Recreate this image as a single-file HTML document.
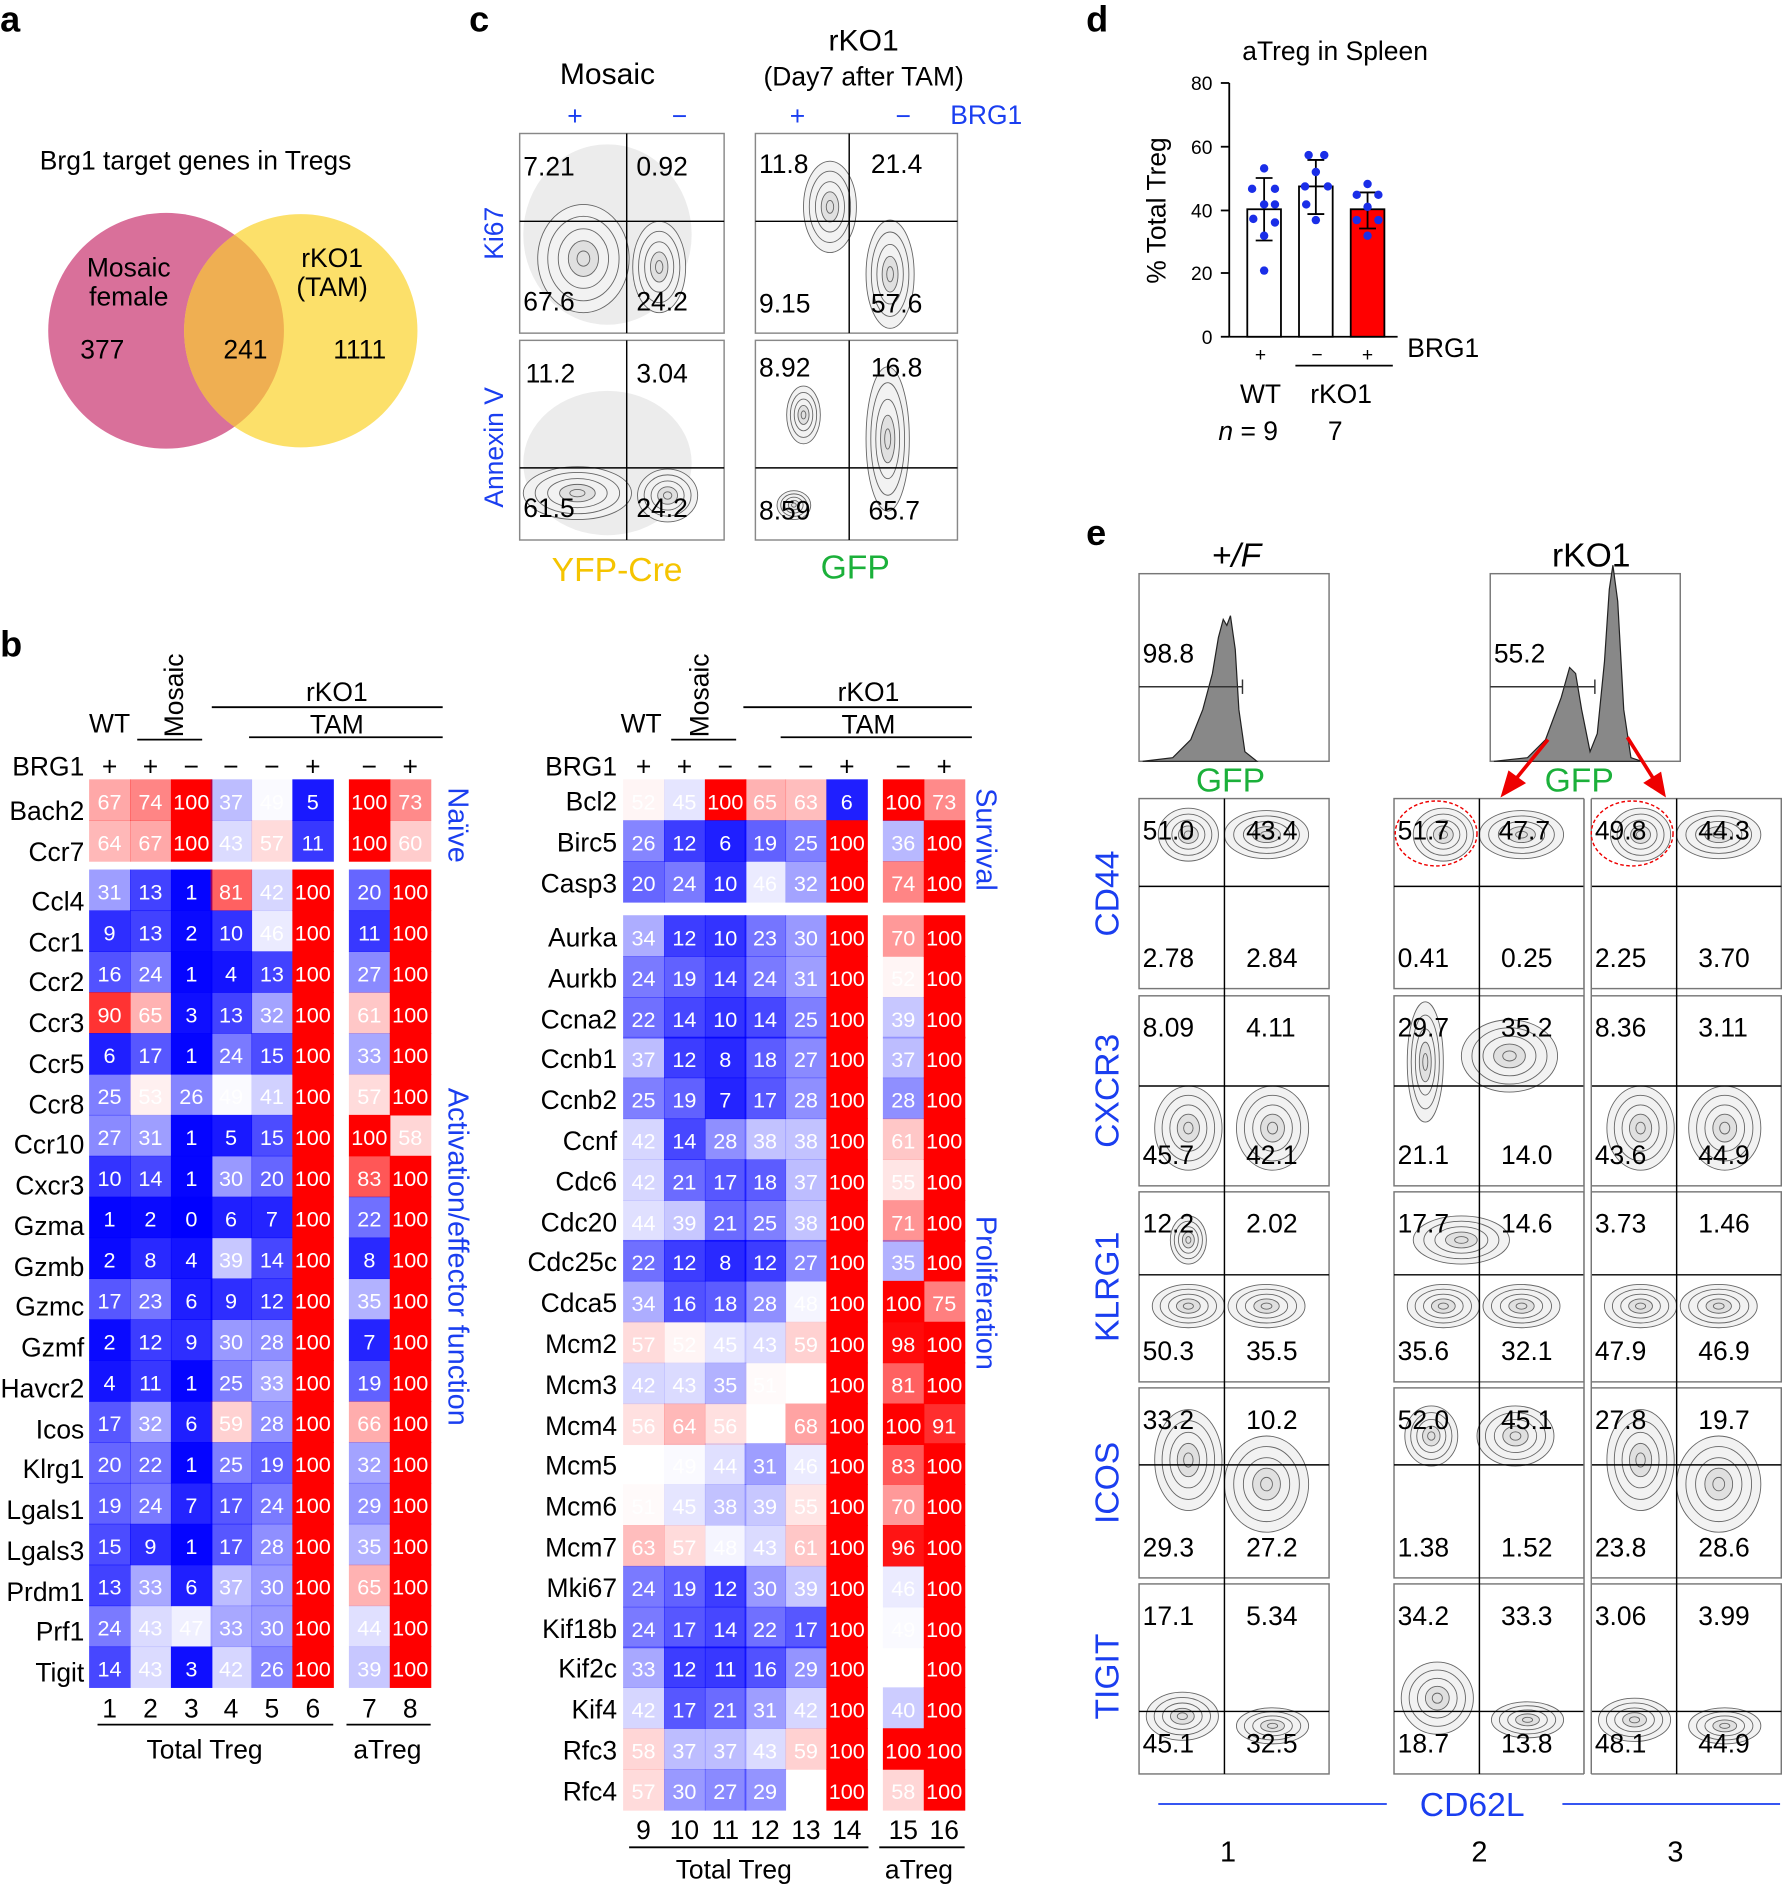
<!DOCTYPE html>
<html><head><meta charset="utf-8"><style>
html,body{margin:0;padding:0;background:#fff}
svg{display:block;font-family:"Liberation Sans",Arial,sans-serif}
.hm text{font-size:18px;fill:#fff;text-anchor:middle}
.gl text{font-size:22px;text-anchor:end}
.q text{font-size:22px}
</style></head><body>
<svg width="1785" height="1887" viewBox="0 0 1484 1569" xmlns="http://www.w3.org/2000/svg">
<defs>
<g id="b" stroke="#666" stroke-width="0.9">
<ellipse rx="1" ry="1" fill="#f2f2f2" vector-effect="non-scaling-stroke"/>
<ellipse rx="0.78" ry="0.78" fill="none" vector-effect="non-scaling-stroke"/>
<ellipse rx="0.55" ry="0.55" fill="none" vector-effect="non-scaling-stroke"/>
<ellipse rx="0.33" ry="0.33" fill="#e0e0e0" vector-effect="non-scaling-stroke"/>
<ellipse rx="0.14" ry="0.14" fill="none" vector-effect="non-scaling-stroke"/>
</g>
</defs>
<g font-size="22">
<text x="0" y="26" font-size="30" font-weight="bold">a</text>
<text x="0" y="546" font-size="30" font-weight="bold">b</text>
<text x="390" y="26" font-size="30" font-weight="bold">c</text>
<text x="903" y="26" font-size="30" font-weight="bold">d</text>
<text x="903" y="453" font-size="30" font-weight="bold">e</text>

<text x="33" y="141">Brg1 target genes in Tregs</text>
<circle cx="138" cy="275" r="98" fill="#d9709a"/>
<circle cx="250" cy="275" r="97" fill="#fce06a"/>
<clipPath id="cv"><circle cx="138" cy="275" r="98"/></clipPath>
<circle cx="250" cy="275" r="97" fill="#efaf52" clip-path="url(#cv)"/>
<text x="107" y="230" text-anchor="middle">Mosaic</text>
<text x="107" y="254" text-anchor="middle">female</text>
<text x="276" y="222" text-anchor="middle">rKO1</text>
<text x="276" y="246" text-anchor="middle">(TAM)</text>
<text x="85" y="298" text-anchor="middle">377</text>
<text x="204" y="298" text-anchor="middle">241</text>
<text x="299" y="298" text-anchor="middle">1111</text>

<text x="70" y="645" text-anchor="end">BRG1</text>
<g text-anchor="middle"><text x="91" y="645">+</text><text x="125" y="645">+</text><text x="159" y="645">−</text><text x="192" y="645">−</text><text x="226" y="645">−</text><text x="260" y="645">+</text><text x="307" y="645">−</text><text x="341" y="645">+</text>
<text x="91" y="609">WT</text><text x="280" y="583">rKO1</text><text x="280" y="610">TAM</text>
<text x="91" y="1428">1</text><text x="125" y="1428">2</text><text x="159" y="1428">3</text><text x="192" y="1428">4</text><text x="226" y="1428">5</text><text x="260" y="1428">6</text><text x="307" y="1428">7</text><text x="341" y="1428">8</text>
<text x="170" y="1462">Total Treg</text><text x="322" y="1462">aTreg</text></g>
<text transform="translate(152,613) rotate(-90)">Mosaic</text>
<g stroke="#000" stroke-width="1.5"><line x1="114" y1="615" x2="168" y2="615"/><line x1="176" y1="588" x2="368" y2="588"/><line x1="207" y1="613" x2="368" y2="613"/><line x1="81" y1="1434" x2="277" y2="1434"/><line x1="288" y1="1434" x2="358" y2="1434"/></g>
<text x="513" y="645" text-anchor="end">BRG1</text>
<g text-anchor="middle"><text x="535" y="645">+</text><text x="569" y="645">+</text><text x="603" y="645">−</text><text x="636" y="645">−</text><text x="670" y="645">−</text><text x="704" y="645">+</text><text x="751" y="645">−</text><text x="785" y="645">+</text>
<text x="533" y="609">WT</text><text x="722" y="583">rKO1</text><text x="722" y="610">TAM</text>
<text x="535" y="1529">9</text><text x="569" y="1529">10</text><text x="603" y="1529">11</text><text x="636" y="1529">12</text><text x="670" y="1529">13</text><text x="704" y="1529">14</text><text x="751" y="1529">15</text><text x="785" y="1529">16</text>
<text x="610" y="1562">Total Treg</text><text x="764" y="1562">aTreg</text></g>
<text transform="translate(589,613) rotate(-90)">Mosaic</text>
<g stroke="#000" stroke-width="1.5"><line x1="558" y1="615" x2="612" y2="615"/><line x1="618" y1="588" x2="808" y2="588"/><line x1="649" y1="613" x2="808" y2="613"/><line x1="523" y1="1536" x2="722" y2="1536"/><line x1="731" y1="1536" x2="802" y2="1536"/></g>
<g fill="#1a3ef0" font-size="24" text-anchor="middle">
<text transform="translate(373,686) rotate(90)">Naïve</text>
<text transform="translate(373,1045) rotate(90)">Activation/effector function</text>
<text transform="translate(812,698) rotate(90)">Survival</text>
<text transform="translate(812,1075) rotate(90)">Proliferation</text></g>
</g>

<g class="gl">
<text x="70" y="682">Bach2</text><text x="70" y="716">Ccr7</text><text x="70" y="757">Ccl4</text><text x="70" y="791">Ccr1</text><text x="70" y="824">Ccr2</text><text x="70" y="858">Ccr3</text><text x="70" y="892">Ccr5</text><text x="70" y="926">Ccr8</text><text x="70" y="959">Ccr10</text><text x="70" y="993">Cxcr3</text><text x="70" y="1027">Gzma</text><text x="70" y="1061">Gzmb</text><text x="70" y="1094">Gzmc</text><text x="70" y="1128">Gzmf</text><text x="70" y="1162">Havcr2</text><text x="70" y="1196">Icos</text><text x="70" y="1229">Klrg1</text><text x="70" y="1263">Lgals1</text><text x="70" y="1297">Lgals3</text><text x="70" y="1331">Prdm1</text><text x="70" y="1364">Prf1</text><text x="70" y="1398">Tigit</text>
<text x="513" y="674">Bcl2</text><text x="513" y="708">Birc5</text><text x="513" y="742">Casp3</text><text x="513" y="787">Aurka</text><text x="513" y="821">Aurkb</text><text x="513" y="855">Ccna2</text><text x="513" y="888">Ccnb1</text><text x="513" y="922">Ccnb2</text><text x="513" y="956">Ccnf</text><text x="513" y="990">Cdc6</text><text x="513" y="1024">Cdc20</text><text x="513" y="1057">Cdc25c</text><text x="513" y="1091">Cdca5</text><text x="513" y="1125">Mcm2</text><text x="513" y="1159">Mcm3</text><text x="513" y="1193">Mcm4</text><text x="513" y="1226">Mcm5</text><text x="513" y="1260">Mcm6</text><text x="513" y="1294">Mcm7</text><text x="513" y="1328">Mki67</text><text x="513" y="1362">Kif18b</text><text x="513" y="1395">Kif2c</text><text x="513" y="1429">Kif4</text><text x="513" y="1463">Rfc3</text><text x="513" y="1497">Rfc4</text>
</g>

<g class="hm">
<g transform="translate(0,648)"><rect x="74" width="34.5" height="34.5" fill="#f00" fill-opacity=".34"/><text x="91" y="25">67</text><rect x="108" width="34.5" height="34.5" fill="#f00" fill-opacity=".48"/><text x="125" y="25">74</text><rect x="142" width="34.5" height="34.5" fill="#f00"/><text x="159" y="25">100</text><rect x="175" width="34.5" height="34.5" fill="#00f" fill-opacity=".26"/><text x="192" y="25">37</text><rect x="209" width="34.5" height="34.5" fill="#00f" fill-opacity=".02"/><text x="226" y="25">49</text><rect x="243" width="34.5" height="34.5" fill="#00f" fill-opacity=".9"/><text x="260" y="25">5</text><rect x="290" width="34.5" height="34.5" fill="#f00"/><text x="307" y="25">100</text><rect x="324" width="34.5" height="34.5" fill="#f00" fill-opacity=".46"/><text x="341" y="25">73</text></g>
<g transform="translate(0,682)"><rect x="74" width="34.5" height="34.5" fill="#f00" fill-opacity=".28"/><text x="91" y="25">64</text><rect x="108" width="34.5" height="34.5" fill="#f00" fill-opacity=".34"/><text x="125" y="25">67</text><rect x="142" width="34.5" height="34.5" fill="#f00"/><text x="159" y="25">100</text><rect x="175" width="34.5" height="34.5" fill="#00f" fill-opacity=".14"/><text x="192" y="25">43</text><rect x="209" width="34.5" height="34.5" fill="#f00" fill-opacity=".14"/><text x="226" y="25">57</text><rect x="243" width="34.5" height="34.5" fill="#00f" fill-opacity=".78"/><text x="260" y="25">11</text><rect x="290" width="34.5" height="34.5" fill="#f00"/><text x="307" y="25">100</text><rect x="324" width="34.5" height="34.5" fill="#f00" fill-opacity=".2"/><text x="341" y="25">60</text></g>
<g transform="translate(0,723)"><rect x="74" width="34.5" height="34.5" fill="#00f" fill-opacity=".38"/><text x="91" y="25">31</text><rect x="108" width="34.5" height="34.5" fill="#00f" fill-opacity=".74"/><text x="125" y="25">13</text><rect x="142" width="34.5" height="34.5" fill="#00f" fill-opacity=".98"/><text x="159" y="25">1</text><rect x="175" width="34.5" height="34.5" fill="#f00" fill-opacity=".62"/><text x="192" y="25">81</text><rect x="209" width="34.5" height="34.5" fill="#00f" fill-opacity=".16"/><text x="226" y="25">42</text><rect x="243" width="34.5" height="34.5" fill="#f00"/><text x="260" y="25">100</text><rect x="290" width="34.5" height="34.5" fill="#00f" fill-opacity=".6"/><text x="307" y="25">20</text><rect x="324" width="34.5" height="34.5" fill="#f00"/><text x="341" y="25">100</text></g>
<g transform="translate(0,757)"><rect x="74" width="34.5" height="34.5" fill="#00f" fill-opacity=".82"/><text x="91" y="25">9</text><rect x="108" width="34.5" height="34.5" fill="#00f" fill-opacity=".74"/><text x="125" y="25">13</text><rect x="142" width="34.5" height="34.5" fill="#00f" fill-opacity=".96"/><text x="159" y="25">2</text><rect x="175" width="34.5" height="34.5" fill="#00f" fill-opacity=".8"/><text x="192" y="25">10</text><rect x="209" width="34.5" height="34.5" fill="#00f" fill-opacity=".08"/><text x="226" y="25">46</text><rect x="243" width="34.5" height="34.5" fill="#f00"/><text x="260" y="25">100</text><rect x="290" width="34.5" height="34.5" fill="#00f" fill-opacity=".78"/><text x="307" y="25">11</text><rect x="324" width="34.5" height="34.5" fill="#f00"/><text x="341" y="25">100</text></g>
<g transform="translate(0,791)"><rect x="74" width="34.5" height="34.5" fill="#00f" fill-opacity=".68"/><text x="91" y="25">16</text><rect x="108" width="34.5" height="34.5" fill="#00f" fill-opacity=".52"/><text x="125" y="25">24</text><rect x="142" width="34.5" height="34.5" fill="#00f" fill-opacity=".98"/><text x="159" y="25">1</text><rect x="175" width="34.5" height="34.5" fill="#00f" fill-opacity=".92"/><text x="192" y="25">4</text><rect x="209" width="34.5" height="34.5" fill="#00f" fill-opacity=".74"/><text x="226" y="25">13</text><rect x="243" width="34.5" height="34.5" fill="#f00"/><text x="260" y="25">100</text><rect x="290" width="34.5" height="34.5" fill="#00f" fill-opacity=".46"/><text x="307" y="25">27</text><rect x="324" width="34.5" height="34.5" fill="#f00"/><text x="341" y="25">100</text></g>
<g transform="translate(0,825)"><rect x="74" width="34.5" height="34.5" fill="#f00" fill-opacity=".8"/><text x="91" y="25">90</text><rect x="108" width="34.5" height="34.5" fill="#f00" fill-opacity=".3"/><text x="125" y="25">65</text><rect x="142" width="34.5" height="34.5" fill="#00f" fill-opacity=".94"/><text x="159" y="25">3</text><rect x="175" width="34.5" height="34.5" fill="#00f" fill-opacity=".74"/><text x="192" y="25">13</text><rect x="209" width="34.5" height="34.5" fill="#00f" fill-opacity=".36"/><text x="226" y="25">32</text><rect x="243" width="34.5" height="34.5" fill="#f00"/><text x="260" y="25">100</text><rect x="290" width="34.5" height="34.5" fill="#f00" fill-opacity=".22"/><text x="307" y="25">61</text><rect x="324" width="34.5" height="34.5" fill="#f00"/><text x="341" y="25">100</text></g>
<g transform="translate(0,859)"><rect x="74" width="34.5" height="34.5" fill="#00f" fill-opacity=".88"/><text x="91" y="25">6</text><rect x="108" width="34.5" height="34.5" fill="#00f" fill-opacity=".66"/><text x="125" y="25">17</text><rect x="142" width="34.5" height="34.5" fill="#00f" fill-opacity=".98"/><text x="159" y="25">1</text><rect x="175" width="34.5" height="34.5" fill="#00f" fill-opacity=".52"/><text x="192" y="25">24</text><rect x="209" width="34.5" height="34.5" fill="#00f" fill-opacity=".7"/><text x="226" y="25">15</text><rect x="243" width="34.5" height="34.5" fill="#f00"/><text x="260" y="25">100</text><rect x="290" width="34.5" height="34.5" fill="#00f" fill-opacity=".34"/><text x="307" y="25">33</text><rect x="324" width="34.5" height="34.5" fill="#f00"/><text x="341" y="25">100</text></g>
<g transform="translate(0,893)"><rect x="74" width="34.5" height="34.5" fill="#00f" fill-opacity=".5"/><text x="91" y="25">25</text><rect x="108" width="34.5" height="34.5" fill="#f00" fill-opacity=".06"/><text x="125" y="25">53</text><rect x="142" width="34.5" height="34.5" fill="#00f" fill-opacity=".48"/><text x="159" y="25">26</text><rect x="175" width="34.5" height="34.5" fill="#00f" fill-opacity=".02"/><text x="192" y="25">49</text><rect x="209" width="34.5" height="34.5" fill="#00f" fill-opacity=".18"/><text x="226" y="25">41</text><rect x="243" width="34.5" height="34.5" fill="#f00"/><text x="260" y="25">100</text><rect x="290" width="34.5" height="34.5" fill="#f00" fill-opacity=".14"/><text x="307" y="25">57</text><rect x="324" width="34.5" height="34.5" fill="#f00"/><text x="341" y="25">100</text></g>
<g transform="translate(0,927)"><rect x="74" width="34.5" height="34.5" fill="#00f" fill-opacity=".46"/><text x="91" y="25">27</text><rect x="108" width="34.5" height="34.5" fill="#00f" fill-opacity=".38"/><text x="125" y="25">31</text><rect x="142" width="34.5" height="34.5" fill="#00f" fill-opacity=".98"/><text x="159" y="25">1</text><rect x="175" width="34.5" height="34.5" fill="#00f" fill-opacity=".9"/><text x="192" y="25">5</text><rect x="209" width="34.5" height="34.5" fill="#00f" fill-opacity=".7"/><text x="226" y="25">15</text><rect x="243" width="34.5" height="34.5" fill="#f00"/><text x="260" y="25">100</text><rect x="290" width="34.5" height="34.5" fill="#f00"/><text x="307" y="25">100</text><rect x="324" width="34.5" height="34.5" fill="#f00" fill-opacity=".16"/><text x="341" y="25">58</text></g>
<g transform="translate(0,961)"><rect x="74" width="34.5" height="34.5" fill="#00f" fill-opacity=".8"/><text x="91" y="25">10</text><rect x="108" width="34.5" height="34.5" fill="#00f" fill-opacity=".72"/><text x="125" y="25">14</text><rect x="142" width="34.5" height="34.5" fill="#00f" fill-opacity=".98"/><text x="159" y="25">1</text><rect x="175" width="34.5" height="34.5" fill="#00f" fill-opacity=".4"/><text x="192" y="25">30</text><rect x="209" width="34.5" height="34.5" fill="#00f" fill-opacity=".6"/><text x="226" y="25">20</text><rect x="243" width="34.5" height="34.5" fill="#f00"/><text x="260" y="25">100</text><rect x="290" width="34.5" height="34.5" fill="#f00" fill-opacity=".66"/><text x="307" y="25">83</text><rect x="324" width="34.5" height="34.5" fill="#f00"/><text x="341" y="25">100</text></g>
<g transform="translate(0,995)"><rect x="74" width="34.5" height="34.5" fill="#00f" fill-opacity=".98"/><text x="91" y="25">1</text><rect x="108" width="34.5" height="34.5" fill="#00f" fill-opacity=".96"/><text x="125" y="25">2</text><rect x="142" width="34.5" height="34.5" fill="#00f"/><text x="159" y="25">0</text><rect x="175" width="34.5" height="34.5" fill="#00f" fill-opacity=".88"/><text x="192" y="25">6</text><rect x="209" width="34.5" height="34.5" fill="#00f" fill-opacity=".86"/><text x="226" y="25">7</text><rect x="243" width="34.5" height="34.5" fill="#f00"/><text x="260" y="25">100</text><rect x="290" width="34.5" height="34.5" fill="#00f" fill-opacity=".56"/><text x="307" y="25">22</text><rect x="324" width="34.5" height="34.5" fill="#f00"/><text x="341" y="25">100</text></g>
<g transform="translate(0,1029)"><rect x="74" width="34.5" height="34.5" fill="#00f" fill-opacity=".96"/><text x="91" y="25">2</text><rect x="108" width="34.5" height="34.5" fill="#00f" fill-opacity=".84"/><text x="125" y="25">8</text><rect x="142" width="34.5" height="34.5" fill="#00f" fill-opacity=".92"/><text x="159" y="25">4</text><rect x="175" width="34.5" height="34.5" fill="#00f" fill-opacity=".22"/><text x="192" y="25">39</text><rect x="209" width="34.5" height="34.5" fill="#00f" fill-opacity=".72"/><text x="226" y="25">14</text><rect x="243" width="34.5" height="34.5" fill="#f00"/><text x="260" y="25">100</text><rect x="290" width="34.5" height="34.5" fill="#00f" fill-opacity=".84"/><text x="307" y="25">8</text><rect x="324" width="34.5" height="34.5" fill="#f00"/><text x="341" y="25">100</text></g>
<g transform="translate(0,1063)"><rect x="74" width="34.5" height="34.5" fill="#00f" fill-opacity=".66"/><text x="91" y="25">17</text><rect x="108" width="34.5" height="34.5" fill="#00f" fill-opacity=".54"/><text x="125" y="25">23</text><rect x="142" width="34.5" height="34.5" fill="#00f" fill-opacity=".88"/><text x="159" y="25">6</text><rect x="175" width="34.5" height="34.5" fill="#00f" fill-opacity=".82"/><text x="192" y="25">9</text><rect x="209" width="34.5" height="34.5" fill="#00f" fill-opacity=".76"/><text x="226" y="25">12</text><rect x="243" width="34.5" height="34.5" fill="#f00"/><text x="260" y="25">100</text><rect x="290" width="34.5" height="34.5" fill="#00f" fill-opacity=".3"/><text x="307" y="25">35</text><rect x="324" width="34.5" height="34.5" fill="#f00"/><text x="341" y="25">100</text></g>
<g transform="translate(0,1097)"><rect x="74" width="34.5" height="34.5" fill="#00f" fill-opacity=".96"/><text x="91" y="25">2</text><rect x="108" width="34.5" height="34.5" fill="#00f" fill-opacity=".76"/><text x="125" y="25">12</text><rect x="142" width="34.5" height="34.5" fill="#00f" fill-opacity=".82"/><text x="159" y="25">9</text><rect x="175" width="34.5" height="34.5" fill="#00f" fill-opacity=".4"/><text x="192" y="25">30</text><rect x="209" width="34.5" height="34.5" fill="#00f" fill-opacity=".44"/><text x="226" y="25">28</text><rect x="243" width="34.5" height="34.5" fill="#f00"/><text x="260" y="25">100</text><rect x="290" width="34.5" height="34.5" fill="#00f" fill-opacity=".86"/><text x="307" y="25">7</text><rect x="324" width="34.5" height="34.5" fill="#f00"/><text x="341" y="25">100</text></g>
<g transform="translate(0,1131)"><rect x="74" width="34.5" height="34.5" fill="#00f" fill-opacity=".92"/><text x="91" y="25">4</text><rect x="108" width="34.5" height="34.5" fill="#00f" fill-opacity=".78"/><text x="125" y="25">11</text><rect x="142" width="34.5" height="34.5" fill="#00f" fill-opacity=".98"/><text x="159" y="25">1</text><rect x="175" width="34.5" height="34.5" fill="#00f" fill-opacity=".5"/><text x="192" y="25">25</text><rect x="209" width="34.5" height="34.5" fill="#00f" fill-opacity=".34"/><text x="226" y="25">33</text><rect x="243" width="34.5" height="34.5" fill="#f00"/><text x="260" y="25">100</text><rect x="290" width="34.5" height="34.5" fill="#00f" fill-opacity=".62"/><text x="307" y="25">19</text><rect x="324" width="34.5" height="34.5" fill="#f00"/><text x="341" y="25">100</text></g>
<g transform="translate(0,1165)"><rect x="74" width="34.5" height="34.5" fill="#00f" fill-opacity=".66"/><text x="91" y="25">17</text><rect x="108" width="34.5" height="34.5" fill="#00f" fill-opacity=".36"/><text x="125" y="25">32</text><rect x="142" width="34.5" height="34.5" fill="#00f" fill-opacity=".88"/><text x="159" y="25">6</text><rect x="175" width="34.5" height="34.5" fill="#f00" fill-opacity=".18"/><text x="192" y="25">59</text><rect x="209" width="34.5" height="34.5" fill="#00f" fill-opacity=".44"/><text x="226" y="25">28</text><rect x="243" width="34.5" height="34.5" fill="#f00"/><text x="260" y="25">100</text><rect x="290" width="34.5" height="34.5" fill="#f00" fill-opacity=".32"/><text x="307" y="25">66</text><rect x="324" width="34.5" height="34.5" fill="#f00"/><text x="341" y="25">100</text></g>
<g transform="translate(0,1199)"><rect x="74" width="34.5" height="34.5" fill="#00f" fill-opacity=".6"/><text x="91" y="25">20</text><rect x="108" width="34.5" height="34.5" fill="#00f" fill-opacity=".56"/><text x="125" y="25">22</text><rect x="142" width="34.5" height="34.5" fill="#00f" fill-opacity=".98"/><text x="159" y="25">1</text><rect x="175" width="34.5" height="34.5" fill="#00f" fill-opacity=".5"/><text x="192" y="25">25</text><rect x="209" width="34.5" height="34.5" fill="#00f" fill-opacity=".62"/><text x="226" y="25">19</text><rect x="243" width="34.5" height="34.5" fill="#f00"/><text x="260" y="25">100</text><rect x="290" width="34.5" height="34.5" fill="#00f" fill-opacity=".36"/><text x="307" y="25">32</text><rect x="324" width="34.5" height="34.5" fill="#f00"/><text x="341" y="25">100</text></g>
<g transform="translate(0,1233)"><rect x="74" width="34.5" height="34.5" fill="#00f" fill-opacity=".62"/><text x="91" y="25">19</text><rect x="108" width="34.5" height="34.5" fill="#00f" fill-opacity=".52"/><text x="125" y="25">24</text><rect x="142" width="34.5" height="34.5" fill="#00f" fill-opacity=".86"/><text x="159" y="25">7</text><rect x="175" width="34.5" height="34.5" fill="#00f" fill-opacity=".66"/><text x="192" y="25">17</text><rect x="209" width="34.5" height="34.5" fill="#00f" fill-opacity=".52"/><text x="226" y="25">24</text><rect x="243" width="34.5" height="34.5" fill="#f00"/><text x="260" y="25">100</text><rect x="290" width="34.5" height="34.5" fill="#00f" fill-opacity=".42"/><text x="307" y="25">29</text><rect x="324" width="34.5" height="34.5" fill="#f00"/><text x="341" y="25">100</text></g>
<g transform="translate(0,1267)"><rect x="74" width="34.5" height="34.5" fill="#00f" fill-opacity=".7"/><text x="91" y="25">15</text><rect x="108" width="34.5" height="34.5" fill="#00f" fill-opacity=".82"/><text x="125" y="25">9</text><rect x="142" width="34.5" height="34.5" fill="#00f" fill-opacity=".98"/><text x="159" y="25">1</text><rect x="175" width="34.5" height="34.5" fill="#00f" fill-opacity=".66"/><text x="192" y="25">17</text><rect x="209" width="34.5" height="34.5" fill="#00f" fill-opacity=".44"/><text x="226" y="25">28</text><rect x="243" width="34.5" height="34.5" fill="#f00"/><text x="260" y="25">100</text><rect x="290" width="34.5" height="34.5" fill="#00f" fill-opacity=".3"/><text x="307" y="25">35</text><rect x="324" width="34.5" height="34.5" fill="#f00"/><text x="341" y="25">100</text></g>
<g transform="translate(0,1301)"><rect x="74" width="34.5" height="34.5" fill="#00f" fill-opacity=".74"/><text x="91" y="25">13</text><rect x="108" width="34.5" height="34.5" fill="#00f" fill-opacity=".34"/><text x="125" y="25">33</text><rect x="142" width="34.5" height="34.5" fill="#00f" fill-opacity=".88"/><text x="159" y="25">6</text><rect x="175" width="34.5" height="34.5" fill="#00f" fill-opacity=".26"/><text x="192" y="25">37</text><rect x="209" width="34.5" height="34.5" fill="#00f" fill-opacity=".4"/><text x="226" y="25">30</text><rect x="243" width="34.5" height="34.5" fill="#f00"/><text x="260" y="25">100</text><rect x="290" width="34.5" height="34.5" fill="#f00" fill-opacity=".3"/><text x="307" y="25">65</text><rect x="324" width="34.5" height="34.5" fill="#f00"/><text x="341" y="25">100</text></g>
<g transform="translate(0,1335)"><rect x="74" width="34.5" height="34.5" fill="#00f" fill-opacity=".52"/><text x="91" y="25">24</text><rect x="108" width="34.5" height="34.5" fill="#00f" fill-opacity=".14"/><text x="125" y="25">43</text><rect x="142" width="34.5" height="34.5" fill="#00f" fill-opacity=".06"/><text x="159" y="25">47</text><rect x="175" width="34.5" height="34.5" fill="#00f" fill-opacity=".34"/><text x="192" y="25">33</text><rect x="209" width="34.5" height="34.5" fill="#00f" fill-opacity=".4"/><text x="226" y="25">30</text><rect x="243" width="34.5" height="34.5" fill="#f00"/><text x="260" y="25">100</text><rect x="290" width="34.5" height="34.5" fill="#00f" fill-opacity=".12"/><text x="307" y="25">44</text><rect x="324" width="34.5" height="34.5" fill="#f00"/><text x="341" y="25">100</text></g>
<g transform="translate(0,1369)"><rect x="74" width="34.5" height="34.5" fill="#00f" fill-opacity=".72"/><text x="91" y="25">14</text><rect x="108" width="34.5" height="34.5" fill="#00f" fill-opacity=".14"/><text x="125" y="25">43</text><rect x="142" width="34.5" height="34.5" fill="#00f" fill-opacity=".94"/><text x="159" y="25">3</text><rect x="175" width="34.5" height="34.5" fill="#00f" fill-opacity=".16"/><text x="192" y="25">42</text><rect x="209" width="34.5" height="34.5" fill="#00f" fill-opacity=".48"/><text x="226" y="25">26</text><rect x="243" width="34.5" height="34.5" fill="#f00"/><text x="260" y="25">100</text><rect x="290" width="34.5" height="34.5" fill="#00f" fill-opacity=".22"/><text x="307" y="25">39</text><rect x="324" width="34.5" height="34.5" fill="#f00"/><text x="341" y="25">100</text></g>
</g>

<g class="hm">
<g transform="translate(0,648)"><rect x="518" width="34.5" height="34.5" fill="#f00" fill-opacity=".04"/><text x="535" y="25">52</text><rect x="552" width="34.5" height="34.5" fill="#00f" fill-opacity=".1"/><text x="569" y="25">45</text><rect x="586" width="34.5" height="34.5" fill="#f00"/><text x="603" y="25">100</text><rect x="619" width="34.5" height="34.5" fill="#f00" fill-opacity=".3"/><text x="636" y="25">65</text><rect x="653" width="34.5" height="34.5" fill="#f00" fill-opacity=".26"/><text x="670" y="25">63</text><rect x="687" width="34.5" height="34.5" fill="#00f" fill-opacity=".88"/><text x="704" y="25">6</text><rect x="734" width="34.5" height="34.5" fill="#f00"/><text x="751" y="25">100</text><rect x="768" width="34.5" height="34.5" fill="#f00" fill-opacity=".46"/><text x="785" y="25">73</text></g>
<g transform="translate(0,682)"><rect x="518" width="34.5" height="34.5" fill="#00f" fill-opacity=".48"/><text x="535" y="25">26</text><rect x="552" width="34.5" height="34.5" fill="#00f" fill-opacity=".76"/><text x="569" y="25">12</text><rect x="586" width="34.5" height="34.5" fill="#00f" fill-opacity=".88"/><text x="603" y="25">6</text><rect x="619" width="34.5" height="34.5" fill="#00f" fill-opacity=".62"/><text x="636" y="25">19</text><rect x="653" width="34.5" height="34.5" fill="#00f" fill-opacity=".5"/><text x="670" y="25">25</text><rect x="687" width="34.5" height="34.5" fill="#f00"/><text x="704" y="25">100</text><rect x="734" width="34.5" height="34.5" fill="#00f" fill-opacity=".28"/><text x="751" y="25">36</text><rect x="768" width="34.5" height="34.5" fill="#f00"/><text x="785" y="25">100</text></g>
<g transform="translate(0,716)"><rect x="518" width="34.5" height="34.5" fill="#00f" fill-opacity=".6"/><text x="535" y="25">20</text><rect x="552" width="34.5" height="34.5" fill="#00f" fill-opacity=".52"/><text x="569" y="25">24</text><rect x="586" width="34.5" height="34.5" fill="#00f" fill-opacity=".8"/><text x="603" y="25">10</text><rect x="619" width="34.5" height="34.5" fill="#00f" fill-opacity=".08"/><text x="636" y="25">46</text><rect x="653" width="34.5" height="34.5" fill="#00f" fill-opacity=".36"/><text x="670" y="25">32</text><rect x="687" width="34.5" height="34.5" fill="#f00"/><text x="704" y="25">100</text><rect x="734" width="34.5" height="34.5" fill="#f00" fill-opacity=".48"/><text x="751" y="25">74</text><rect x="768" width="34.5" height="34.5" fill="#f00"/><text x="785" y="25">100</text></g>
<g transform="translate(0,761)"><rect x="518" width="34.5" height="34.5" fill="#00f" fill-opacity=".32"/><text x="535" y="25">34</text><rect x="552" width="34.5" height="34.5" fill="#00f" fill-opacity=".76"/><text x="569" y="25">12</text><rect x="586" width="34.5" height="34.5" fill="#00f" fill-opacity=".8"/><text x="603" y="25">10</text><rect x="619" width="34.5" height="34.5" fill="#00f" fill-opacity=".54"/><text x="636" y="25">23</text><rect x="653" width="34.5" height="34.5" fill="#00f" fill-opacity=".4"/><text x="670" y="25">30</text><rect x="687" width="34.5" height="34.5" fill="#f00"/><text x="704" y="25">100</text><rect x="734" width="34.5" height="34.5" fill="#f00" fill-opacity=".4"/><text x="751" y="25">70</text><rect x="768" width="34.5" height="34.5" fill="#f00"/><text x="785" y="25">100</text></g>
<g transform="translate(0,795)"><rect x="518" width="34.5" height="34.5" fill="#00f" fill-opacity=".52"/><text x="535" y="25">24</text><rect x="552" width="34.5" height="34.5" fill="#00f" fill-opacity=".62"/><text x="569" y="25">19</text><rect x="586" width="34.5" height="34.5" fill="#00f" fill-opacity=".72"/><text x="603" y="25">14</text><rect x="619" width="34.5" height="34.5" fill="#00f" fill-opacity=".52"/><text x="636" y="25">24</text><rect x="653" width="34.5" height="34.5" fill="#00f" fill-opacity=".38"/><text x="670" y="25">31</text><rect x="687" width="34.5" height="34.5" fill="#f00"/><text x="704" y="25">100</text><rect x="734" width="34.5" height="34.5" fill="#f00" fill-opacity=".04"/><text x="751" y="25">52</text><rect x="768" width="34.5" height="34.5" fill="#f00"/><text x="785" y="25">100</text></g>
<g transform="translate(0,829)"><rect x="518" width="34.5" height="34.5" fill="#00f" fill-opacity=".56"/><text x="535" y="25">22</text><rect x="552" width="34.5" height="34.5" fill="#00f" fill-opacity=".72"/><text x="569" y="25">14</text><rect x="586" width="34.5" height="34.5" fill="#00f" fill-opacity=".8"/><text x="603" y="25">10</text><rect x="619" width="34.5" height="34.5" fill="#00f" fill-opacity=".72"/><text x="636" y="25">14</text><rect x="653" width="34.5" height="34.5" fill="#00f" fill-opacity=".5"/><text x="670" y="25">25</text><rect x="687" width="34.5" height="34.5" fill="#f00"/><text x="704" y="25">100</text><rect x="734" width="34.5" height="34.5" fill="#00f" fill-opacity=".22"/><text x="751" y="25">39</text><rect x="768" width="34.5" height="34.5" fill="#f00"/><text x="785" y="25">100</text></g>
<g transform="translate(0,862)"><rect x="518" width="34.5" height="34.5" fill="#00f" fill-opacity=".26"/><text x="535" y="25">37</text><rect x="552" width="34.5" height="34.5" fill="#00f" fill-opacity=".76"/><text x="569" y="25">12</text><rect x="586" width="34.5" height="34.5" fill="#00f" fill-opacity=".84"/><text x="603" y="25">8</text><rect x="619" width="34.5" height="34.5" fill="#00f" fill-opacity=".64"/><text x="636" y="25">18</text><rect x="653" width="34.5" height="34.5" fill="#00f" fill-opacity=".46"/><text x="670" y="25">27</text><rect x="687" width="34.5" height="34.5" fill="#f00"/><text x="704" y="25">100</text><rect x="734" width="34.5" height="34.5" fill="#00f" fill-opacity=".26"/><text x="751" y="25">37</text><rect x="768" width="34.5" height="34.5" fill="#f00"/><text x="785" y="25">100</text></g>
<g transform="translate(0,896)"><rect x="518" width="34.5" height="34.5" fill="#00f" fill-opacity=".5"/><text x="535" y="25">25</text><rect x="552" width="34.5" height="34.5" fill="#00f" fill-opacity=".62"/><text x="569" y="25">19</text><rect x="586" width="34.5" height="34.5" fill="#00f" fill-opacity=".86"/><text x="603" y="25">7</text><rect x="619" width="34.5" height="34.5" fill="#00f" fill-opacity=".66"/><text x="636" y="25">17</text><rect x="653" width="34.5" height="34.5" fill="#00f" fill-opacity=".44"/><text x="670" y="25">28</text><rect x="687" width="34.5" height="34.5" fill="#f00"/><text x="704" y="25">100</text><rect x="734" width="34.5" height="34.5" fill="#00f" fill-opacity=".44"/><text x="751" y="25">28</text><rect x="768" width="34.5" height="34.5" fill="#f00"/><text x="785" y="25">100</text></g>
<g transform="translate(0,930)"><rect x="518" width="34.5" height="34.5" fill="#00f" fill-opacity=".16"/><text x="535" y="25">42</text><rect x="552" width="34.5" height="34.5" fill="#00f" fill-opacity=".72"/><text x="569" y="25">14</text><rect x="586" width="34.5" height="34.5" fill="#00f" fill-opacity=".44"/><text x="603" y="25">28</text><rect x="619" width="34.5" height="34.5" fill="#00f" fill-opacity=".24"/><text x="636" y="25">38</text><rect x="653" width="34.5" height="34.5" fill="#00f" fill-opacity=".24"/><text x="670" y="25">38</text><rect x="687" width="34.5" height="34.5" fill="#f00"/><text x="704" y="25">100</text><rect x="734" width="34.5" height="34.5" fill="#f00" fill-opacity=".22"/><text x="751" y="25">61</text><rect x="768" width="34.5" height="34.5" fill="#f00"/><text x="785" y="25">100</text></g>
<g transform="translate(0,964)"><rect x="518" width="34.5" height="34.5" fill="#00f" fill-opacity=".16"/><text x="535" y="25">42</text><rect x="552" width="34.5" height="34.5" fill="#00f" fill-opacity=".58"/><text x="569" y="25">21</text><rect x="586" width="34.5" height="34.5" fill="#00f" fill-opacity=".66"/><text x="603" y="25">17</text><rect x="619" width="34.5" height="34.5" fill="#00f" fill-opacity=".64"/><text x="636" y="25">18</text><rect x="653" width="34.5" height="34.5" fill="#00f" fill-opacity=".26"/><text x="670" y="25">37</text><rect x="687" width="34.5" height="34.5" fill="#f00"/><text x="704" y="25">100</text><rect x="734" width="34.5" height="34.5" fill="#f00" fill-opacity=".1"/><text x="751" y="25">55</text><rect x="768" width="34.5" height="34.5" fill="#f00"/><text x="785" y="25">100</text></g>
<g transform="translate(0,998)"><rect x="518" width="34.5" height="34.5" fill="#00f" fill-opacity=".12"/><text x="535" y="25">44</text><rect x="552" width="34.5" height="34.5" fill="#00f" fill-opacity=".22"/><text x="569" y="25">39</text><rect x="586" width="34.5" height="34.5" fill="#00f" fill-opacity=".58"/><text x="603" y="25">21</text><rect x="619" width="34.5" height="34.5" fill="#00f" fill-opacity=".5"/><text x="636" y="25">25</text><rect x="653" width="34.5" height="34.5" fill="#00f" fill-opacity=".24"/><text x="670" y="25">38</text><rect x="687" width="34.5" height="34.5" fill="#f00"/><text x="704" y="25">100</text><rect x="734" width="34.5" height="34.5" fill="#f00" fill-opacity=".42"/><text x="751" y="25">71</text><rect x="768" width="34.5" height="34.5" fill="#f00"/><text x="785" y="25">100</text></g>
<g transform="translate(0,1031)"><rect x="518" width="34.5" height="34.5" fill="#00f" fill-opacity=".56"/><text x="535" y="25">22</text><rect x="552" width="34.5" height="34.5" fill="#00f" fill-opacity=".76"/><text x="569" y="25">12</text><rect x="586" width="34.5" height="34.5" fill="#00f" fill-opacity=".84"/><text x="603" y="25">8</text><rect x="619" width="34.5" height="34.5" fill="#00f" fill-opacity=".76"/><text x="636" y="25">12</text><rect x="653" width="34.5" height="34.5" fill="#00f" fill-opacity=".46"/><text x="670" y="25">27</text><rect x="687" width="34.5" height="34.5" fill="#f00"/><text x="704" y="25">100</text><rect x="734" width="34.5" height="34.5" fill="#00f" fill-opacity=".3"/><text x="751" y="25">35</text><rect x="768" width="34.5" height="34.5" fill="#f00"/><text x="785" y="25">100</text></g>
<g transform="translate(0,1065)"><rect x="518" width="34.5" height="34.5" fill="#00f" fill-opacity=".32"/><text x="535" y="25">34</text><rect x="552" width="34.5" height="34.5" fill="#00f" fill-opacity=".68"/><text x="569" y="25">16</text><rect x="586" width="34.5" height="34.5" fill="#00f" fill-opacity=".64"/><text x="603" y="25">18</text><rect x="619" width="34.5" height="34.5" fill="#00f" fill-opacity=".44"/><text x="636" y="25">28</text><rect x="653" width="34.5" height="34.5" fill="#00f" fill-opacity=".04"/><text x="670" y="25">48</text><rect x="687" width="34.5" height="34.5" fill="#f00"/><text x="704" y="25">100</text><rect x="734" width="34.5" height="34.5" fill="#f00"/><text x="751" y="25">100</text><rect x="768" width="34.5" height="34.5" fill="#f00" fill-opacity=".5"/><text x="785" y="25">75</text></g>
<g transform="translate(0,1099)"><rect x="518" width="34.5" height="34.5" fill="#f00" fill-opacity=".14"/><text x="535" y="25">57</text><rect x="552" width="34.5" height="34.5" fill="#f00" fill-opacity=".04"/><text x="569" y="25">52</text><rect x="586" width="34.5" height="34.5" fill="#00f" fill-opacity=".1"/><text x="603" y="25">45</text><rect x="619" width="34.5" height="34.5" fill="#00f" fill-opacity=".14"/><text x="636" y="25">43</text><rect x="653" width="34.5" height="34.5" fill="#f00" fill-opacity=".18"/><text x="670" y="25">59</text><rect x="687" width="34.5" height="34.5" fill="#f00"/><text x="704" y="25">100</text><rect x="734" width="34.5" height="34.5" fill="#f00" fill-opacity=".96"/><text x="751" y="25">98</text><rect x="768" width="34.5" height="34.5" fill="#f00"/><text x="785" y="25">100</text></g>
<g transform="translate(0,1133)"><rect x="518" width="34.5" height="34.5" fill="#00f" fill-opacity=".16"/><text x="535" y="25">42</text><rect x="552" width="34.5" height="34.5" fill="#00f" fill-opacity=".14"/><text x="569" y="25">43</text><rect x="586" width="34.5" height="34.5" fill="#00f" fill-opacity=".3"/><text x="603" y="25">35</text><rect x="619" width="34.5" height="34.5" fill="#f00" fill-opacity=".02"/><text x="636" y="25">51</text><text x="670" y="25">50</text><rect x="687" width="34.5" height="34.5" fill="#f00"/><text x="704" y="25">100</text><rect x="734" width="34.5" height="34.5" fill="#f00" fill-opacity=".62"/><text x="751" y="25">81</text><rect x="768" width="34.5" height="34.5" fill="#f00"/><text x="785" y="25">100</text></g>
<g transform="translate(0,1167)"><rect x="518" width="34.5" height="34.5" fill="#f00" fill-opacity=".12"/><text x="535" y="25">56</text><rect x="552" width="34.5" height="34.5" fill="#f00" fill-opacity=".28"/><text x="569" y="25">64</text><rect x="586" width="34.5" height="34.5" fill="#f00" fill-opacity=".12"/><text x="603" y="25">56</text><text x="636" y="25">50</text><rect x="653" width="34.5" height="34.5" fill="#f00" fill-opacity=".36"/><text x="670" y="25">68</text><rect x="687" width="34.5" height="34.5" fill="#f00"/><text x="704" y="25">100</text><rect x="734" width="34.5" height="34.5" fill="#f00"/><text x="751" y="25">100</text><rect x="768" width="34.5" height="34.5" fill="#f00" fill-opacity=".82"/><text x="785" y="25">91</text></g>
<g transform="translate(0,1200)"><text x="535" y="25">50</text><rect x="552" width="34.5" height="34.5" fill="#00f" fill-opacity=".02"/><text x="569" y="25">49</text><rect x="586" width="34.5" height="34.5" fill="#00f" fill-opacity=".12"/><text x="603" y="25">44</text><rect x="619" width="34.5" height="34.5" fill="#00f" fill-opacity=".38"/><text x="636" y="25">31</text><rect x="653" width="34.5" height="34.5" fill="#00f" fill-opacity=".08"/><text x="670" y="25">46</text><rect x="687" width="34.5" height="34.5" fill="#f00"/><text x="704" y="25">100</text><rect x="734" width="34.5" height="34.5" fill="#f00" fill-opacity=".66"/><text x="751" y="25">83</text><rect x="768" width="34.5" height="34.5" fill="#f00"/><text x="785" y="25">100</text></g>
<g transform="translate(0,1234)"><rect x="518" width="34.5" height="34.5" fill="#f00" fill-opacity=".02"/><text x="535" y="25">51</text><rect x="552" width="34.5" height="34.5" fill="#00f" fill-opacity=".1"/><text x="569" y="25">45</text><rect x="586" width="34.5" height="34.5" fill="#00f" fill-opacity=".24"/><text x="603" y="25">38</text><rect x="619" width="34.5" height="34.5" fill="#00f" fill-opacity=".22"/><text x="636" y="25">39</text><rect x="653" width="34.5" height="34.5" fill="#f00" fill-opacity=".1"/><text x="670" y="25">55</text><rect x="687" width="34.5" height="34.5" fill="#f00"/><text x="704" y="25">100</text><rect x="734" width="34.5" height="34.5" fill="#f00" fill-opacity=".4"/><text x="751" y="25">70</text><rect x="768" width="34.5" height="34.5" fill="#f00"/><text x="785" y="25">100</text></g>
<g transform="translate(0,1268)"><rect x="518" width="34.5" height="34.5" fill="#f00" fill-opacity=".26"/><text x="535" y="25">63</text><rect x="552" width="34.5" height="34.5" fill="#f00" fill-opacity=".14"/><text x="569" y="25">57</text><rect x="586" width="34.5" height="34.5" fill="#00f" fill-opacity=".04"/><text x="603" y="25">48</text><rect x="619" width="34.5" height="34.5" fill="#00f" fill-opacity=".14"/><text x="636" y="25">43</text><rect x="653" width="34.5" height="34.5" fill="#f00" fill-opacity=".22"/><text x="670" y="25">61</text><rect x="687" width="34.5" height="34.5" fill="#f00"/><text x="704" y="25">100</text><rect x="734" width="34.5" height="34.5" fill="#f00" fill-opacity=".92"/><text x="751" y="25">96</text><rect x="768" width="34.5" height="34.5" fill="#f00"/><text x="785" y="25">100</text></g>
<g transform="translate(0,1302)"><rect x="518" width="34.5" height="34.5" fill="#00f" fill-opacity=".52"/><text x="535" y="25">24</text><rect x="552" width="34.5" height="34.5" fill="#00f" fill-opacity=".62"/><text x="569" y="25">19</text><rect x="586" width="34.5" height="34.5" fill="#00f" fill-opacity=".76"/><text x="603" y="25">12</text><rect x="619" width="34.5" height="34.5" fill="#00f" fill-opacity=".4"/><text x="636" y="25">30</text><rect x="653" width="34.5" height="34.5" fill="#00f" fill-opacity=".22"/><text x="670" y="25">39</text><rect x="687" width="34.5" height="34.5" fill="#f00"/><text x="704" y="25">100</text><rect x="734" width="34.5" height="34.5" fill="#00f" fill-opacity=".08"/><text x="751" y="25">46</text><rect x="768" width="34.5" height="34.5" fill="#f00"/><text x="785" y="25">100</text></g>
<g transform="translate(0,1336)"><rect x="518" width="34.5" height="34.5" fill="#00f" fill-opacity=".52"/><text x="535" y="25">24</text><rect x="552" width="34.5" height="34.5" fill="#00f" fill-opacity=".66"/><text x="569" y="25">17</text><rect x="586" width="34.5" height="34.5" fill="#00f" fill-opacity=".72"/><text x="603" y="25">14</text><rect x="619" width="34.5" height="34.5" fill="#00f" fill-opacity=".56"/><text x="636" y="25">22</text><rect x="653" width="34.5" height="34.5" fill="#00f" fill-opacity=".66"/><text x="670" y="25">17</text><rect x="687" width="34.5" height="34.5" fill="#f00"/><text x="704" y="25">100</text><rect x="734" width="34.5" height="34.5" fill="#00f" fill-opacity=".02"/><text x="751" y="25">49</text><rect x="768" width="34.5" height="34.5" fill="#f00"/><text x="785" y="25">100</text></g>
<g transform="translate(0,1369)"><rect x="518" width="34.5" height="34.5" fill="#00f" fill-opacity=".34"/><text x="535" y="25">33</text><rect x="552" width="34.5" height="34.5" fill="#00f" fill-opacity=".76"/><text x="569" y="25">12</text><rect x="586" width="34.5" height="34.5" fill="#00f" fill-opacity=".78"/><text x="603" y="25">11</text><rect x="619" width="34.5" height="34.5" fill="#00f" fill-opacity=".68"/><text x="636" y="25">16</text><rect x="653" width="34.5" height="34.5" fill="#00f" fill-opacity=".42"/><text x="670" y="25">29</text><rect x="687" width="34.5" height="34.5" fill="#f00"/><text x="704" y="25">100</text><text x="751" y="25">50</text><rect x="768" width="34.5" height="34.5" fill="#f00"/><text x="785" y="25">100</text></g>
<g transform="translate(0,1403)"><rect x="518" width="34.5" height="34.5" fill="#00f" fill-opacity=".16"/><text x="535" y="25">42</text><rect x="552" width="34.5" height="34.5" fill="#00f" fill-opacity=".66"/><text x="569" y="25">17</text><rect x="586" width="34.5" height="34.5" fill="#00f" fill-opacity=".58"/><text x="603" y="25">21</text><rect x="619" width="34.5" height="34.5" fill="#00f" fill-opacity=".38"/><text x="636" y="25">31</text><rect x="653" width="34.5" height="34.5" fill="#00f" fill-opacity=".16"/><text x="670" y="25">42</text><rect x="687" width="34.5" height="34.5" fill="#f00"/><text x="704" y="25">100</text><rect x="734" width="34.5" height="34.5" fill="#00f" fill-opacity=".2"/><text x="751" y="25">40</text><rect x="768" width="34.5" height="34.5" fill="#f00"/><text x="785" y="25">100</text></g>
<g transform="translate(0,1437)"><rect x="518" width="34.5" height="34.5" fill="#f00" fill-opacity=".16"/><text x="535" y="25">58</text><rect x="552" width="34.5" height="34.5" fill="#00f" fill-opacity=".26"/><text x="569" y="25">37</text><rect x="586" width="34.5" height="34.5" fill="#00f" fill-opacity=".26"/><text x="603" y="25">37</text><rect x="619" width="34.5" height="34.5" fill="#00f" fill-opacity=".14"/><text x="636" y="25">43</text><rect x="653" width="34.5" height="34.5" fill="#f00" fill-opacity=".18"/><text x="670" y="25">59</text><rect x="687" width="34.5" height="34.5" fill="#f00"/><text x="704" y="25">100</text><rect x="734" width="34.5" height="34.5" fill="#f00"/><text x="751" y="25">100</text><rect x="768" width="34.5" height="34.5" fill="#f00"/><text x="785" y="25">100</text></g>
<g transform="translate(0,1471)"><rect x="518" width="34.5" height="34.5" fill="#f00" fill-opacity=".14"/><text x="535" y="25">57</text><rect x="552" width="34.5" height="34.5" fill="#00f" fill-opacity=".4"/><text x="569" y="25">30</text><rect x="586" width="34.5" height="34.5" fill="#00f" fill-opacity=".46"/><text x="603" y="25">27</text><rect x="619" width="34.5" height="34.5" fill="#00f" fill-opacity=".42"/><text x="636" y="25">29</text><text x="670" y="25">50</text><rect x="687" width="34.5" height="34.5" fill="#f00"/><text x="704" y="25">100</text><rect x="734" width="34.5" height="34.5" fill="#f00" fill-opacity=".16"/><text x="751" y="25">58</text><rect x="768" width="34.5" height="34.5" fill="#f00"/><text x="785" y="25">100</text></g>
</g>

<g font-size="22">
<text x="505" y="70" font-size="25" text-anchor="middle">Mosaic</text>
<text x="718" y="42" font-size="25" text-anchor="middle">rKO1</text>
<text x="718" y="71" text-anchor="middle">(Day7 after TAM)</text>
<g fill="#1a3ef0"><text x="478" y="104" text-anchor="middle">+</text><text x="565" y="104" text-anchor="middle">−</text>
<text x="663" y="104" text-anchor="middle">+</text><text x="751" y="104" text-anchor="middle">−</text><text x="790" y="103">BRG1</text>
<text transform="translate(418,194) rotate(-90)" text-anchor="middle">Ki67</text>
<text transform="translate(418,372) rotate(-90)" text-anchor="middle">Annexin V</text></g>
<text x="513" y="483" font-size="28" fill="#f5c400" text-anchor="middle">YFP-Cre</text>
<text x="711" y="481" font-size="28" fill="#1bb03a" text-anchor="middle">GFP</text>
</g>
<g fill="none" stroke="#888" stroke-width="1.2">
<rect x="432" y="111" width="170" height="166" fill="#fff"/><rect x="628" y="111" width="168" height="166" fill="#fff"/>
<rect x="432" y="283" width="170" height="166" fill="#fff"/><rect x="628" y="283" width="168" height="166" fill="#fff"/></g>
<ellipse cx="505" cy="195" rx="70" ry="75" fill="#ececec"/>
<ellipse cx="505" cy="385" rx="70" ry="60" fill="#ececec"/>
<use href="#b" transform="translate(485,215) scale(38,45)"/>
<use href="#b" transform="translate(548,222) scale(22,38)"/>
<use href="#b" transform="translate(690,172) scale(22,38)"/>
<use href="#b" transform="translate(740,228) scale(20,45)"/>
<use href="#b" transform="translate(480,410) scale(45,22)"/>
<use href="#b" transform="translate(555,412) scale(25,22)"/>
<use href="#b" transform="translate(668,345) scale(14,24)"/>
<use href="#b" transform="translate(738,365) scale(18,60)"/>
<use href="#b" transform="translate(660,420) scale(14,12)"/>
<g stroke="#000" stroke-width="1.2">
<line x1="432" y1="184" x2="602" y2="184"/><line x1="521" y1="111" x2="521" y2="277"/>
<line x1="628" y1="184" x2="796" y2="184"/><line x1="706" y1="111" x2="706" y2="277"/>
<line x1="432" y1="389" x2="602" y2="389"/><line x1="521" y1="283" x2="521" y2="449"/>
<line x1="628" y1="389" x2="796" y2="389"/><line x1="706" y1="283" x2="706" y2="449"/></g>
<g class="q">
<text x="435" y="146">7.21</text><text x="529" y="146">0.92</text><text x="435" y="258">67.6</text><text x="529" y="258">24.2</text>
<text x="631" y="144">11.8</text><text x="724" y="144">21.4</text><text x="631" y="260">9.15</text><text x="724" y="260">57.6</text>
<text x="437" y="318">11.2</text><text x="529" y="318">3.04</text><text x="435" y="430">61.5</text><text x="529" y="430">24.2</text>
<text x="631" y="313">8.92</text><text x="724" y="313">16.8</text><text x="631" y="432">8.59</text><text x="722" y="432">65.7</text>
</g>

<g font-size="22">
<text x="1110" y="50" text-anchor="middle">aTreg in Spleen</text>
<line x1="1022" y1="69" x2="1022" y2="280" stroke="#000" stroke-width="1.5"/>
<g font-size="16" text-anchor="end">
<text x="1008" y="75">80</text><text x="1008" y="128">60</text><text x="1008" y="181">40</text><text x="1008" y="233">20</text><text x="1008" y="286">0</text></g>
<g stroke="#000" stroke-width="1.5"><line x1="1015" y1="69" x2="1022" y2="69"/><line x1="1015" y1="122" x2="1022" y2="122"/><line x1="1015" y1="175" x2="1022" y2="175"/><line x1="1015" y1="227" x2="1022" y2="227"/><line x1="1015" y1="280" x2="1022" y2="280"/>
<line x1="1022" y1="280" x2="1162" y2="280"/></g>
<text transform="translate(969,175) rotate(-90)" text-anchor="middle">% Total Treg</text>
<rect x="1037" y="174" width="28" height="106" fill="#fff" stroke="#000" stroke-width="1.5"/>
<rect x="1080" y="155" width="28" height="125" fill="#fff" stroke="#000" stroke-width="1.5"/>
<rect x="1123" y="174" width="28" height="106" fill="#f00" stroke="#000" stroke-width="1.5"/>
<g stroke="#000" stroke-width="1.5"><line x1="1051" y1="148" x2="1051" y2="200"/><line x1="1044" y1="148" x2="1058" y2="148"/><line x1="1044" y1="200" x2="1058" y2="200"/>
<line x1="1094" y1="133" x2="1094" y2="178"/><line x1="1087" y1="133" x2="1101" y2="133"/><line x1="1087" y1="178" x2="1101" y2="178"/>
<line x1="1137" y1="160" x2="1137" y2="190"/><line x1="1130" y1="160" x2="1144" y2="160"/><line x1="1130" y1="190" x2="1144" y2="190"/></g>
<g fill="#1a2ee8">
<circle cx="1051" cy="140" r="3.5"/><circle cx="1041" cy="157" r="3.5"/><circle cx="1060" cy="157" r="3.5"/><circle cx="1051" cy="170" r="3.5"/><circle cx="1042" cy="182" r="3.5"/><circle cx="1060" cy="185" r="3.5"/><circle cx="1051" cy="196" r="3.5"/><circle cx="1051" cy="225" r="3.5"/><circle cx="1060" cy="170" r="3.5"/>
<circle cx="1088" cy="129" r="3.5"/><circle cx="1101" cy="129" r="3.5"/><circle cx="1085" cy="155" r="3.5"/><circle cx="1104" cy="155" r="3.5"/><circle cx="1094" cy="143" r="3.5"/><circle cx="1094" cy="183" r="3.5"/><circle cx="1086" cy="170" r="3.5"/>
<circle cx="1137" cy="153" r="3.5"/><circle cx="1128" cy="162" r="3.5"/><circle cx="1146" cy="162" r="3.5"/><circle cx="1137" cy="172" r="3.5"/><circle cx="1128" cy="183" r="3.5"/><circle cx="1146" cy="183" r="3.5"/><circle cx="1137" cy="196" r="3.5"/></g>
<text x="1048" y="300" font-size="16" text-anchor="middle">+</text><text x="1095" y="300" font-size="16" text-anchor="middle">−</text><text x="1137" y="300" font-size="16" text-anchor="middle">+</text>
<text x="1170" y="297">BRG1</text>
<line x1="1077" y1="304" x2="1158" y2="304" stroke="#000" stroke-width="1.5"/>
<text x="1048" y="335" text-anchor="middle">WT</text><text x="1115" y="335" text-anchor="middle">rKO1</text>
<text x="1013" y="366"><tspan font-style="italic">n</tspan> = 9</text><text x="1104" y="366">7</text>
</g>

<g font-size="22">
<text x="1028" y="471" font-size="28" text-anchor="middle"><tspan font-style="italic">+/F</tspan></text>
<text x="1323" y="471" font-size="28" text-anchor="middle">rKO1</text>
<rect x="947" y="477" width="158" height="156" fill="#fff" stroke="#777" stroke-width="1.2"/>
<rect x="1239" y="477" width="158" height="156" fill="#fff" stroke="#777" stroke-width="1.2"/>
<path d="M950,633 L975,630 L990,615 L1000,590 L1008,560 L1013,530 L1017,515 L1020,520 L1023,512 L1027,540 L1030,590 L1035,625 L1045,633 Z" fill="#888" stroke="#222"/>
<path d="M1242,633 L1270,630 L1285,615 L1298,580 L1305,555 L1310,560 L1315,590 L1322,625 L1328,610 L1334,550 L1338,490 L1341,470 L1345,500 L1350,590 L1356,630 L1365,633 Z" fill="#888" stroke="#222"/>
<g stroke="#333" stroke-width="1.2"><line x1="947" y1="571" x2="1033" y2="571"/><line x1="1033" y1="565" x2="1033" y2="577"/><line x1="1239" y1="571" x2="1326" y2="571"/><line x1="1326" y1="565" x2="1326" y2="577"/></g>
<text x="950" y="551">98.8</text><text x="1242" y="551">55.2</text>
<text x="1023" y="658" font-size="28" fill="#1bb03a" text-anchor="middle">GFP</text>
<text x="1313" y="658" font-size="28" fill="#1bb03a" text-anchor="middle">GFP</text>
<g stroke="#e00" stroke-width="3" fill="#e00">
<line x1="1287" y1="615" x2="1260" y2="648"/><polygon points="1250,660 1255,643 1266,651"/>
<line x1="1353" y1="613" x2="1375" y2="648"/><polygon points="1383,660 1369,651 1380,644"/></g>
<g fill="#1a3ef0" font-size="28">
<text transform="translate(930,743) rotate(-90)" text-anchor="middle">CD44</text>
<text transform="translate(930,907) rotate(-90)" text-anchor="middle">CXCR3</text>
<text transform="translate(930,1070) rotate(-90)" text-anchor="middle">KLRG1</text>
<text transform="translate(930,1233) rotate(-90)" text-anchor="middle">ICOS</text>
<text transform="translate(930,1394) rotate(-90)" text-anchor="middle">TIGIT</text>
<text x="1224" y="1510" text-anchor="middle">CD62L</text></g>
<line x1="963" y1="1500" x2="1153" y2="1500" stroke="#1a3ef0" stroke-width="1.5"/>
<line x1="1299" y1="1500" x2="1480" y2="1500" stroke="#1a3ef0" stroke-width="1.5"/>
<g font-size="24" text-anchor="middle"><text x="1021" y="1548">1</text><text x="1230" y="1548">2</text><text x="1393" y="1548">3</text></g>
</g>
<g fill="#fff" stroke="#777" stroke-width="1.2">
<rect x="947" y="664" width="158" height="158"/><rect x="1159" y="664" width="158" height="158"/><rect x="1323" y="664" width="158" height="158"/>
<rect x="947" y="828" width="158" height="158"/><rect x="1159" y="828" width="158" height="158"/><rect x="1323" y="828" width="158" height="158"/>
<rect x="947" y="991" width="158" height="158"/><rect x="1159" y="991" width="158" height="158"/><rect x="1323" y="991" width="158" height="158"/>
<rect x="947" y="1154" width="158" height="158"/><rect x="1159" y="1154" width="158" height="158"/><rect x="1323" y="1154" width="158" height="158"/>
<rect x="947" y="1317" width="158" height="158"/><rect x="1159" y="1317" width="158" height="158"/><rect x="1323" y="1317" width="158" height="158"/>
</g>
<use href="#b" transform="translate(988,694) scale(25,22)"/><use href="#b" transform="translate(1053,694) scale(35,20)"/>
<use href="#b" transform="translate(1200,694) scale(25,22)"/><use href="#b" transform="translate(1265,694) scale(35,20)"/>
<use href="#b" transform="translate(1364,694) scale(25,22)"/><use href="#b" transform="translate(1429,694) scale(35,20)"/>
<use href="#b" transform="translate(988,938) scale(28,35)"/><use href="#b" transform="translate(1058,938) scale(30,35)"/>
<use href="#b" transform="translate(1185,883) scale(15,50)"/><use href="#b" transform="translate(1255,878) scale(40,30)"/>
<use href="#b" transform="translate(1364,938) scale(28,35)"/><use href="#b" transform="translate(1434,938) scale(30,35)"/>
<use href="#b" transform="translate(988,1086) scale(30,18)"/><use href="#b" transform="translate(1053,1086) scale(32,18)"/><use href="#b" transform="translate(988,1031) scale(15,20)"/>
<use href="#b" transform="translate(1200,1086) scale(30,18)"/><use href="#b" transform="translate(1265,1086) scale(32,18)"/><use href="#b" transform="translate(1215,1031) scale(40,20)"/>
<use href="#b" transform="translate(1364,1086) scale(30,18)"/><use href="#b" transform="translate(1429,1086) scale(32,18)"/>
<use href="#b" transform="translate(988,1214) scale(28,42)"/><use href="#b" transform="translate(1053,1234) scale(35,40)"/>
<use href="#b" transform="translate(1190,1194) scale(22,25)"/><use href="#b" transform="translate(1260,1194) scale(32,25)"/>
<use href="#b" transform="translate(1364,1214) scale(28,42)"/><use href="#b" transform="translate(1429,1234) scale(35,40)"/>
<use href="#b" transform="translate(983,1427) scale(30,20)"/><use href="#b" transform="translate(1058,1435) scale(30,15)"/>
<use href="#b" transform="translate(1195,1412) scale(30,30)"/><use href="#b" transform="translate(1270,1430) scale(30,15)"/>
<use href="#b" transform="translate(1359,1430) scale(30,18)"/><use href="#b" transform="translate(1434,1435) scale(30,15)"/>
<g stroke="#000" stroke-width="1.2">
<line x1="1018" y1="664" x2="1018" y2="1475"/><line x1="1230" y1="664" x2="1230" y2="1475"/><line x1="1394" y1="664" x2="1394" y2="1475"/>
<line x1="947" y1="737" x2="1105" y2="737"/><line x1="1159" y1="737" x2="1481" y2="737"/>
<line x1="947" y1="903" x2="1105" y2="903"/><line x1="1159" y1="903" x2="1481" y2="903"/>
<line x1="947" y1="1060" x2="1105" y2="1060"/><line x1="1159" y1="1060" x2="1481" y2="1060"/>
<line x1="947" y1="1218" x2="1105" y2="1218"/><line x1="1159" y1="1218" x2="1481" y2="1218"/>
<line x1="947" y1="1423" x2="1105" y2="1423"/><line x1="1159" y1="1423" x2="1481" y2="1423"/></g>
<rect x="1317" y="660" width="6" height="820" fill="#fff"/>
<g stroke="#777" stroke-width="1.2"><line x1="1317" y1="664" x2="1317" y2="1475"/><line x1="1323" y1="664" x2="1323" y2="1475"/></g>
<g class="q">
<text x="950" y="698">51.0</text><text x="1036" y="698">43.4</text><text x="950" y="804">2.78</text><text x="1036" y="804">2.84</text>
<text x="1162" y="698">51.7</text><text x="1246" y="698">47.7</text><text x="1162" y="804">0.41</text><text x="1248" y="804">0.25</text>
<text x="1326" y="698">49.8</text><text x="1412" y="698">44.3</text><text x="1326" y="804">2.25</text><text x="1412" y="804">3.70</text>
<text x="950" y="862">8.09</text><text x="1036" y="862">4.11</text><text x="950" y="968">45.7</text><text x="1036" y="968">42.1</text>
<text x="1162" y="862">29.7</text><text x="1248" y="862">35.2</text><text x="1162" y="968">21.1</text><text x="1248" y="968">14.0</text>
<text x="1326" y="862">8.36</text><text x="1412" y="862">3.11</text><text x="1326" y="968">43.6</text><text x="1412" y="968">44.9</text>
<text x="950" y="1025">12.2</text><text x="1036" y="1025">2.02</text><text x="950" y="1131">50.3</text><text x="1036" y="1131">35.5</text>
<text x="1162" y="1025">17.7</text><text x="1248" y="1025">14.6</text><text x="1162" y="1131">35.6</text><text x="1248" y="1131">32.1</text>
<text x="1326" y="1025">3.73</text><text x="1412" y="1025">1.46</text><text x="1326" y="1131">47.9</text><text x="1412" y="1131">46.9</text>
<text x="950" y="1188">33.2</text><text x="1036" y="1188">10.2</text><text x="950" y="1294">29.3</text><text x="1036" y="1294">27.2</text>
<text x="1162" y="1188">52.0</text><text x="1248" y="1188">45.1</text><text x="1162" y="1294">1.38</text><text x="1248" y="1294">1.52</text>
<text x="1326" y="1188">27.8</text><text x="1412" y="1188">19.7</text><text x="1326" y="1294">23.8</text><text x="1412" y="1294">28.6</text>
<text x="950" y="1351">17.1</text><text x="1036" y="1351">5.34</text><text x="950" y="1457">45.1</text><text x="1036" y="1457">32.5</text>
<text x="1162" y="1351">34.2</text><text x="1248" y="1351">33.3</text><text x="1162" y="1457">18.7</text><text x="1248" y="1457">13.8</text>
<text x="1326" y="1351">3.06</text><text x="1412" y="1351">3.99</text><text x="1326" y="1457">48.1</text><text x="1412" y="1457">44.9</text>
</g>
<ellipse cx="1194" cy="693" rx="34" ry="27" fill="none" stroke="#e00" stroke-width="1.2" stroke-dasharray="3,2"/>
<ellipse cx="1357" cy="693" rx="34" ry="27" fill="none" stroke="#e00" stroke-width="1.2" stroke-dasharray="3,2"/>
</svg>
</body></html>
